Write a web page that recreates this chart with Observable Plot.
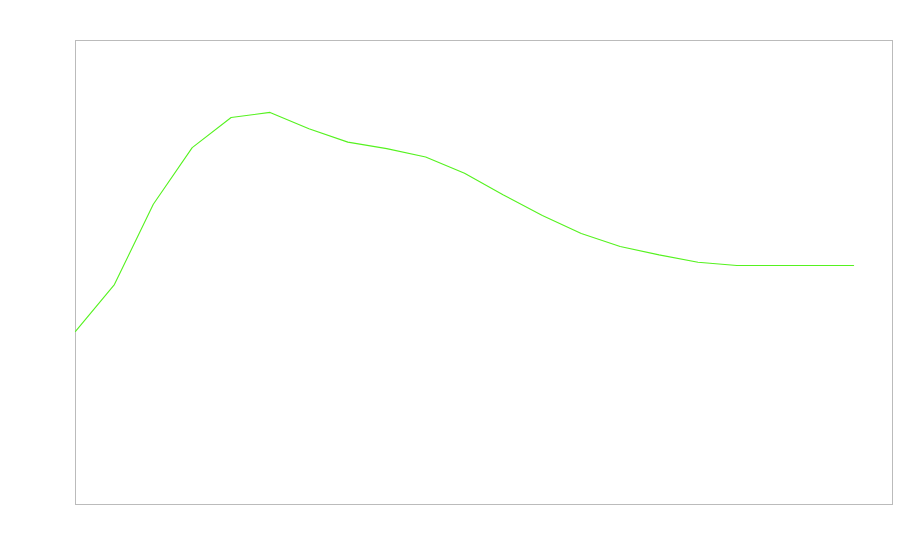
<!DOCTYPE html>
<html>
<head>
<meta charset="utf-8">
<script src="https://cdn.jsdelivr.net/npm/d3@7"></script>
<script src="https://cdn.jsdelivr.net/npm/@observablehq/plot@0.6"></script>
<style>
  html, body { margin: 0; padding: 0; background: #fff; }
  #chart svg { display: block; }
</style>
</head>
<body>
<div id="chart"></div>
<script>
const steps = [0,1,2,3,4,5,6,7,8,9,10,11,12,13,14,15,16,17,18,19,20];
const values = [37.3,47.4,64.7,76.9,83.4,84.5,81.0,78.1,76.7,74.9,71.4,66.7,62.3,58.4,55.6,53.8,52.2,51.5,51.5,51.5,51.5];

const data = steps.map((s, i) => ({x: s, y: values[i]}));

const chart = Plot.plot({
  width: 900,
  height: 560,
  marginLeft: 75,
  marginRight: 8,
  marginTop: 40,
  marginBottom: 56,
  x: {domain: [0, 21], axis: null},
  y: {domain: [0, 100], axis: null},
  marks: [
    Plot.frame({stroke: "#bbbbbb", strokeWidth: 1}),
    Plot.line(data, {x: "x", y: "y", stroke: "#55f21f", strokeWidth: 1.1})
  ]
});
document.getElementById("chart").appendChild(chart);
</script>
</body>
</html>
